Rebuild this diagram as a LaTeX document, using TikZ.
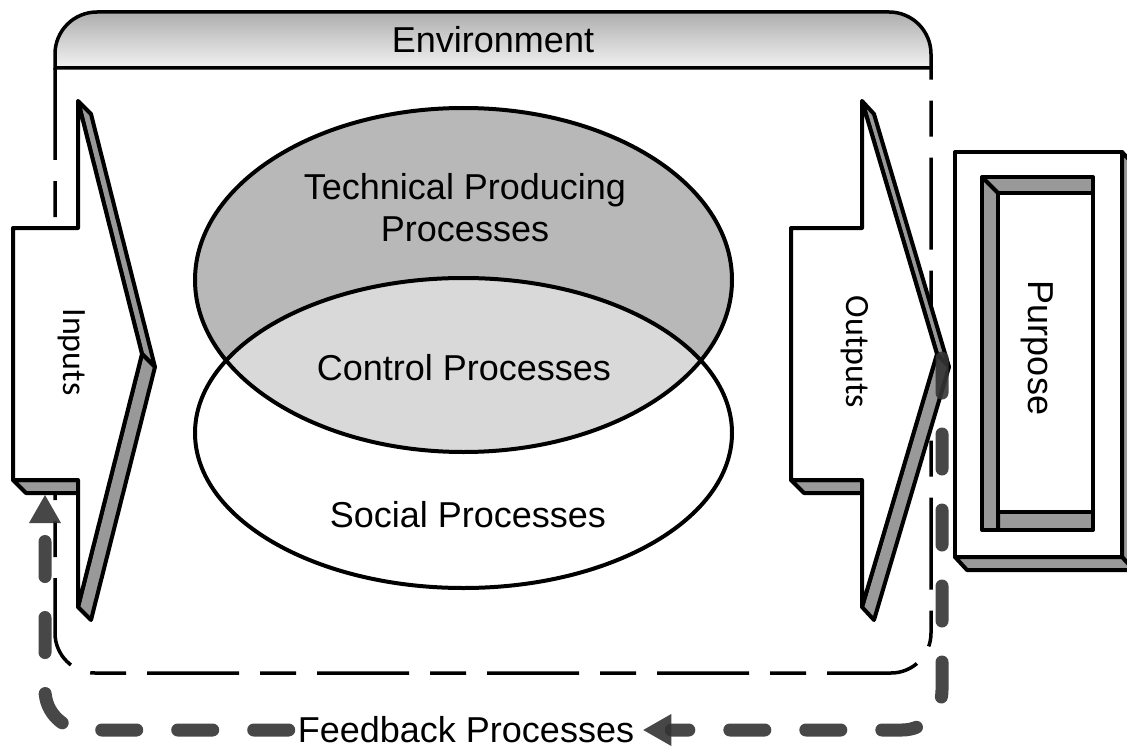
\documentclass[tikz,border=0pt]{standalone}
\usepackage{fontspec}
\setmainfont{Liberation Sans}
\newfontfamily\gillfont{Carlito}
\usepackage{tikz}
\usetikzlibrary{calc, positioning, arrows.meta}

\tikzset{
  face/.style={draw=black, fill=black!40, line width=4pt, line join=round},
  front/.style={draw=black, fill=white, line width=4pt, line join=round},
  envline/.style={line width=3.5pt, dash pattern=on 92pt off 21pt on 36pt off 21pt},
  fbline/.style={draw=black!80, opacity=0.9, line width=13pt, line cap=round,
    dash pattern=on 35pt off 41pt, rounded corners=40pt,
    -{Triangle[length=28pt,width=32pt,line width=0pt]}},
  lbl/.style={font=\fontsize{36}{42}\selectfont, inner sep=0pt},
  sidelbl/.style={font=\gillfont\fontsize{34}{40}\selectfont, rotate=-90, inner sep=0pt},
}

\begin{document}
\begin{tikzpicture}[x=1pt, y=-1pt]
\useasboundingbox (0,0) rectangle (1127,749);
	% Environment
\draw[line width=3.5pt, top color=black!32, bottom color=black!5] (55,68) -- (55,54) arc[start angle=180, end angle=270, radius=42] -- (889,12) arc[start angle=270, end angle=360, radius=42] -- (931,68) -- cycle;
\node[lbl, anchor=base] (env) at (493,53) {Environment};
\draw[envline, rounded corners=40pt] (55,68) -- (55,673) -- (931,673) -- (931,68);

	% Processes
\fill[black!28] (463.5,280) ellipse [x radius=268.5, y radius=172];
\fill[white] (463.5,433) ellipse [x radius=268.5, y radius=155];
\begin{scope}
\clip (463.5,280) ellipse [x radius=268.5, y radius=172];
\fill[black!15] (463.5,433) ellipse [x radius=268.5, y radius=155];
\end{scope}
\draw[line width=4pt] (463.5,280) ellipse [x radius=268.5, y radius=172];
\draw[line width=4pt] (463.5,433) ellipse [x radius=268.5, y radius=155];
\node[lbl, align=center] (tpp) at (465,208) {Technical Producing\\Processes};
\node[lbl, anchor=base] (cp) at (464,380) {Control Processes};
\node[lbl, anchor=base] (sp) at (468,527) {Social Processes};

	% Inputs
\draw[face] (78,101) -- (142,354) -- (155,367) -- (91,114) -- cycle;
\draw[face] (142,354) -- (78,607) -- (91,620) -- (155,367) -- cycle;
\draw[face] (13,480) -- (78,480) -- (78,493) -- (26,493) -- cycle;
\draw[front] (13,228) -- (78,228) -- (78,101) -- (142,354) -- (78,607) -- (78,480) -- (13,480) -- cycle;
\node[sidelbl] (inp) at (72,352) {Inputs};
\coordinate (inTip) at (45,495);

	% Outputs
\draw[face] (862,101) -- (937,354) -- (949,367) -- (874,114) -- cycle;
\draw[face] (937,354) -- (862,607) -- (874,620) -- (949,367) -- cycle;
\draw[face] (791,480) -- (862,480) -- (862,493) -- (804,493) -- cycle;
\draw[front] (791,228) -- (862,228) -- (862,101) -- (937,354) -- (862,607) -- (862,480) -- (791,480) -- cycle;
\node[sidelbl] (outp) at (855,352) {Outputs};
\coordinate (outTip) at (942,358);

	% Purpose
\draw[face] (1122,152) -- (1134,165) -- (1134,570) -- (1122,557) -- cycle;
\draw[face] (955,557) -- (1122,557) -- (1134,570) -- (967,570) -- cycle;
\draw[front] (955,152) rectangle (1122,557);
\draw[face] (982,177) rectangle (1093,530);
\draw[front] (998,193) rectangle (1093,512);
\draw[line width=4pt] (982,177) -- (998,193) (998,512) -- (998,530);
\node[lbl, rotate=-90] (purp) at (1037,348) {Purpose};

	% Feedback
\node[lbl, inner xsep=9pt] (fb) at (466,730) {Feedback Processes};
\draw[fbline] (outTip) |- (fb.east);
\draw[fbline] (fb.west) -| (inTip);
\end{tikzpicture}
\end{document}
